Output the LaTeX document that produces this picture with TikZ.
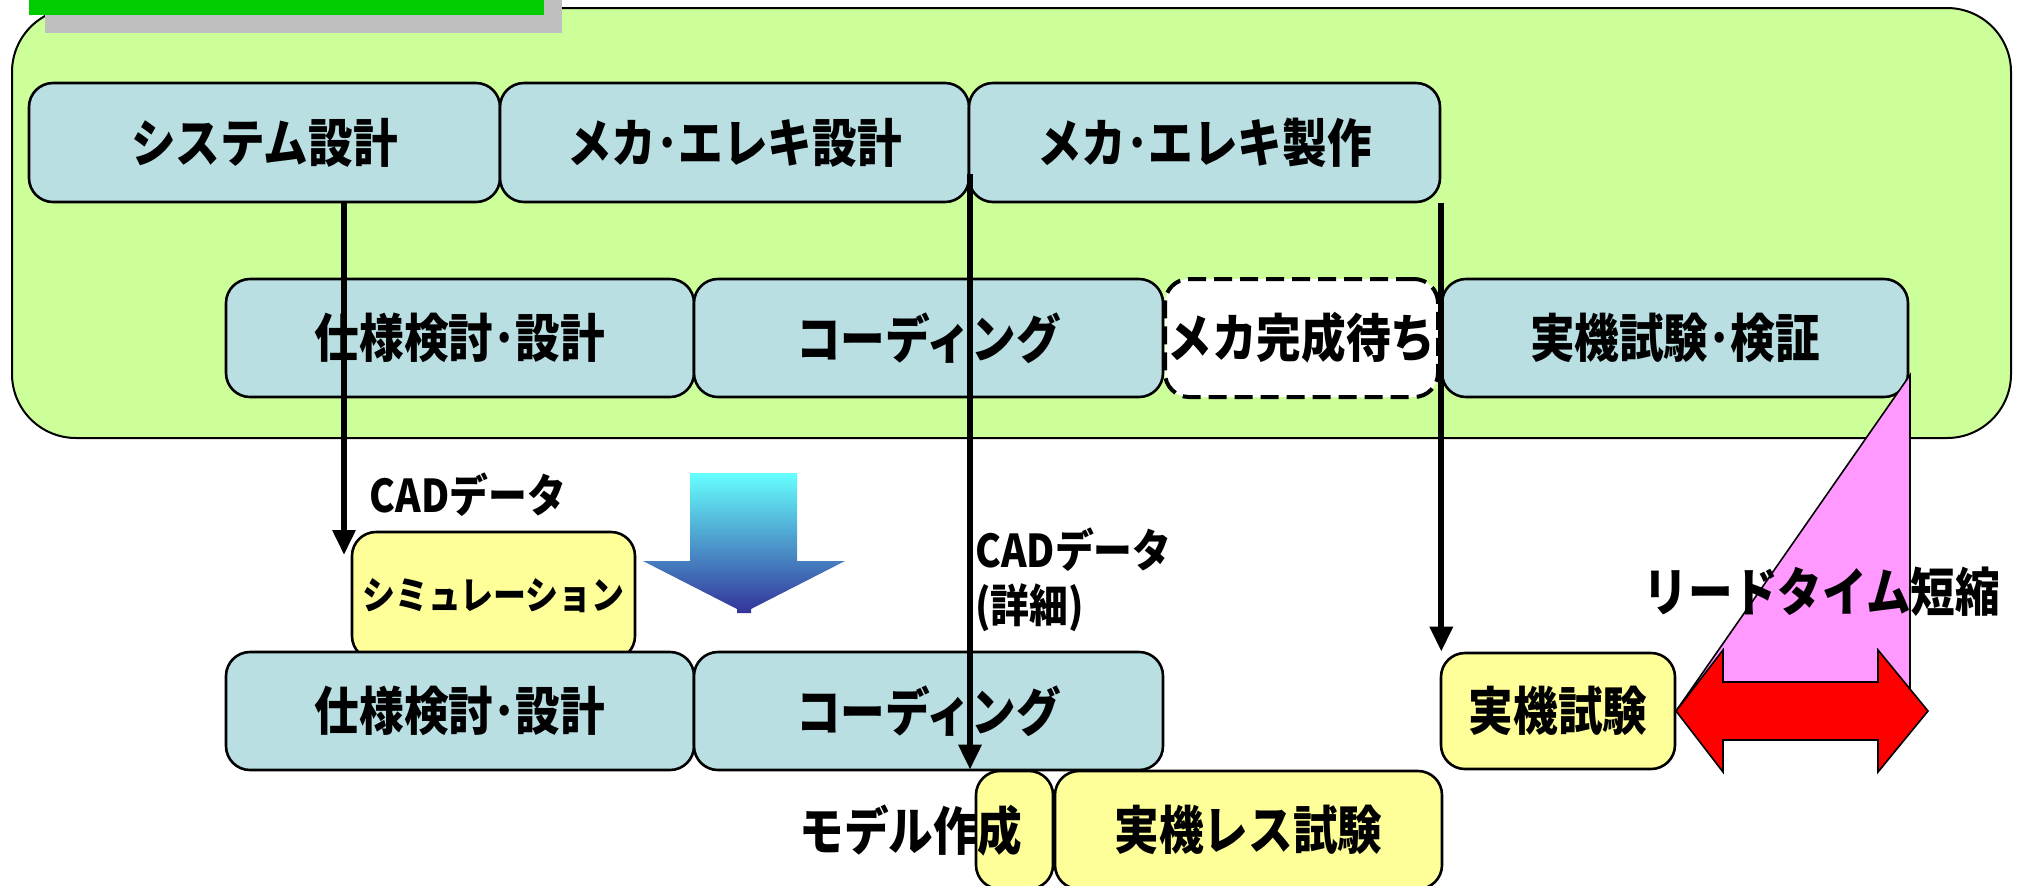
\documentclass[tikz,border=0pt]{standalone}
\usepackage{fontspec}
\newfontfamily\jp{Noto Sans CJK JP}
\usetikzlibrary{arrows.meta}
\definecolor{bgreen}{HTML}{CCFF99}
\definecolor{boxblue}{HTML}{B9DFE3}
\definecolor{ylw}{HTML}{FFFF99}
\definecolor{pinkc}{HTML}{FF99FF}
\definecolor{barg}{HTML}{00CC00}
\definecolor{arrtop}{HTML}{66FFFF}
\definecolor{arrbot}{HTML}{333399}
\newcommand\vs[1]{\scalebox{0.97}[1.13]{#1}}
\begin{document}
\begin{tikzpicture}[x=0.5pt,y=-0.5pt,
  proc/.style={draw=black,line width=1.3pt,fill=boxblue,rounded corners=12pt,inner sep=0pt,
    font=\jp\bfseries\fontsize{23}{23}\selectfont},
  ybox/.style={proc,fill=ylw},
  waitbox/.style={proc,fill=white,dash pattern=on 9pt off 4pt,line width=2pt},
  flow/.style={line width=3pt,-{Triangle[length=12.5pt,width=11pt]}},
  lbl/.style={font=\jp\bfseries\fontsize{20}{27.5}\selectfont,inner sep=0pt},
  big/.style={font=\jp\bfseries\fontsize{23}{23}\selectfont,inner sep=0pt}
]
\useasboundingbox (0,0) rectangle (2024,885);
\clip (0,0) rectangle (2024,885);
% stage background
\draw[fill=bgreen,line width=1pt,rounded corners=32pt] (12,8) rectangle (2011,438);
\fill[gray!50] (45,0) rectangle (562,33);
\fill[barg] (29,0) rectangle (544,15);
% top row
\node[proc,minimum width=235.5pt,minimum height=59.5pt] (sys) at (264.5,142.5) {\vs{システム設計}};
\node[proc,minimum width=234.5pt,minimum height=59.5pt] (mecd) at (734.5,142.5) {\vs{メカ･エレキ設計}};
\node[proc,minimum width=235.5pt,minimum height=59.5pt] (mecm) at (1204.5,142.5) {\vs{メカ･エレキ製作}};
% second row
\node[proc,minimum width=234pt,minimum height=59pt] (spec1) at (460,338) {\vs{仕様検討･設計}};
\node[proc,minimum width=234.5pt,minimum height=59pt] (code1) at (928.5,338) {\vs{コーディング}};
\node[waitbox,minimum width=136.5pt,minimum height=59pt] (wait) at (1301.5,338) {\vs{メカ完成待ち}};
\node[proc,minimum width=233pt,minimum height=59pt] (real1) at (1675,338) {\vs{実機試験･検証}};
% lead time triangle
\draw[fill=pinkc,line width=0.8pt] (1910,375) -- (1910,711) -- (1676,711) -- cycle;
\node[big] (lead) at (1822,592) {\vs{リードタイム短縮}};
% simulation and lower row
\node[ybox,minimum width=141.5pt,minimum height=64pt,font=\jp\bfseries\fontsize{17}{17}\selectfont] (sim) at (493.5,596) {\vs{シミュレーション}};
\node[proc,minimum width=234pt,minimum height=59pt] (spec2) at (460,711) {\vs{仕様検討･設計}};
\node[proc,minimum width=234.5pt,minimum height=59pt] (code2) at (928.5,711) {\vs{コーディング}};
\node[ybox,minimum width=117pt,minimum height=58pt] (jikken) at (1558,711) {\vs{実機試験}};
\node[ybox,minimum width=38.5pt,minimum height=59pt] (model) at (1014.5,830) {};
\node[ybox,minimum width=193.5pt,minimum height=59pt] (less) at (1248.5,830) {\vs{実機レス試験}};
\node[big] (modeltxt) at (911,831) {\vs{モデル作成}};
% shaded arrow
\shade[top color=arrtop,bottom color=arrbot] (690,473) -- (797,473) -- (797,561) -- (845,561)
  -- (751,609) -- (751,613) -- (737,613) -- (737,609) -- (643,561) -- (690,561) -- cycle;
% red double arrow
\draw[fill=red,line width=0.8pt] (1676,711) -- (1723,650) -- (1723,682) -- (1878,682) -- (1878,650)
  -- (1928,711) -- (1878,772) -- (1878,740) -- (1723,740) -- (1723,772) -- cycle;
% labels
\node[lbl] (cad1) at (468,495) {\vs{CADデータ}};
\node[lbl,anchor=west,align=left] (cad2) at (975,580) {\vs{CADデータ}\\\vs{(詳細)}};
% connectors
\coordinate (a1e) at (344,555);
\draw[flow] (sys.south -| a1e) -- (a1e);
\coordinate (a2s) at (970,174);
\draw[flow] (a2s) -- (a2s |- model.north);
\draw[flow] (mecm.south east) -- (mecm.south east |- jikken.north);
\end{tikzpicture}
\end{document}
